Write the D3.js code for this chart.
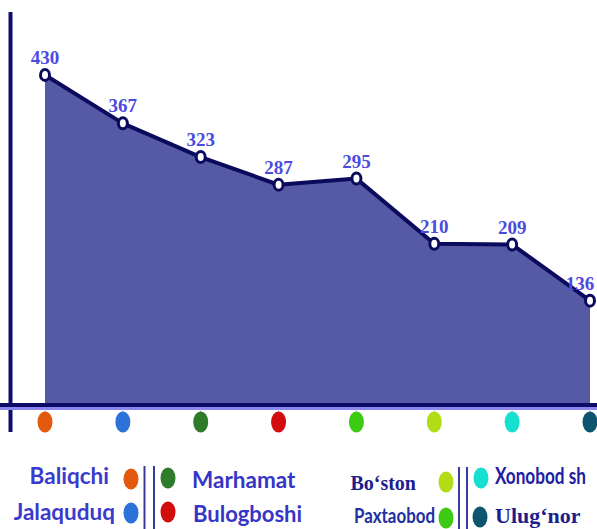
<!DOCTYPE html>
<html>
<head>
<meta charset="utf-8">
<script src="https://cdn.jsdelivr.net/npm/d3@7"></script>
<style>
  html, body { margin: 0; padding: 0; background: #ffffff; }
  svg { display: block; }
</style>
</head>
<body>
<div id="chart"></div>
<script>
// ---- data ----
const categories = ["Baliqchi", "Jalaquduq", "Marhamat", "Bulogboshi", "Paxtaobod", "Bo‘ston", "Xonobod sh", "Ulug‘nor"];
const values = [430, 367, 323, 287, 295, 210, 209, 136];
const dotColors = ["#e35a0f", "#2d72d8", "#2e7b2a", "#d20d0d", "#3ccb12", "#b2dd16", "#16e0cf", "#0e566f"];
// legend groups (indexes into categories)
const legendLeft = [0, 1];
const legendMid = [2, 3];
const legendRight = [5, 4];
const legendFar = [6, 7];

const W = 597, H = 529;
const svg = d3.select("#chart").append("svg").attr("width", W).attr("height", H);

const x = d3.scalePoint().domain(categories).range([45, 590]);
const y = d3.scaleLinear().domain([0, d3.max(values)]).range([405, 75]);

const pts = categories.map((c, i) => ({ c, v: values[i] }));

// area
svg.append("path")
  .datum(pts)
  .attr("fill", "#565aa4")
  .attr("d", d3.area().x(d => x(d.c)).y0(y(0)).y1(d => y(d.v)));

// y axis line
svg.append("line").attr("x1", 10.5).attr("x2", 10.5).attr("y1", 12).attr("y2", 432)
  .attr("stroke", "#0e0e6c").attr("stroke-width", 4);

// x axis line (light under-line then dark)
svg.append("line").attr("x1", 0).attr("x2", W).attr("y1", 408.5).attr("y2", 408.5)
  .attr("stroke", "#8a86ee").attr("stroke-width", 3);
svg.append("line").attr("x1", 0).attr("x2", W).attr("y1", 405).attr("y2", 405)
  .attr("stroke", "#0c0c66").attr("stroke-width", 4);

// small ticks to dots
svg.append("g").selectAll("line").data(pts).join("line")
  .attr("x1", d => x(d.c)).attr("x2", d => x(d.c))
  .attr("y1", 409).attr("y2", 414)
  .attr("stroke", "#b8b4f0").attr("stroke-width", 1);

// category dots below axis
svg.append("g").selectAll("ellipse").data(pts).join("ellipse")
  .attr("cx", d => x(d.c)).attr("cy", 422)
  .attr("rx", 7.5).attr("ry", 10.5)
  .attr("fill", (d, i) => dotColors[i]);

// line
svg.append("path")
  .datum(pts)
  .attr("fill", "none")
  .attr("stroke", "#0b0b5e")
  .attr("stroke-width", 4)
  .attr("stroke-linejoin", "round")
  .attr("d", d3.line().x(d => x(d.c)).y(d => y(d.v)));

// markers
svg.append("g").selectAll("ellipse").data(pts).join("ellipse")
  .attr("cx", d => x(d.c)).attr("cy", d => y(d.v))
  .attr("rx", 4.5).attr("ry", 5.5)
  .attr("fill", "#ffffff").attr("stroke", "#0b0b5e").attr("stroke-width", 3);

// value labels (kept inside the picture)
svg.append("g").selectAll("text").data(pts).join("text")
  .attr("x", d => Math.min(x(d.c), W - 17))
  .attr("y", d => y(d.v) - 11)
  .attr("text-anchor", "middle")
  .attr("font-family", "'Liberation Serif', 'Times New Roman', serif")
  .attr("font-weight", "bold")
  .attr("font-size", 19)
  .attr("fill", "#4b4be0")
  .text(d => d.v);

// ---- legend ----
const sansBold = "Lato, 'Open Sans', sans-serif";
const serif = "'Liberation Serif', 'Times New Roman', serif";
const lg = svg.append("g");

function dot(cx, cy, i) {
  lg.append("ellipse").attr("cx", cx).attr("cy", cy).attr("rx", 7.5).attr("ry", 10.5).attr("fill", dotColors[i]);
}
function label(tx, ty, i, anchor, family, size, color, width) {
  const t = lg.append("text").attr("text-anchor", anchor)
    .attr("dominant-baseline", "middle")
    .attr("font-family", family).attr("font-weight", "bold").attr("font-size", size)
    .attr("fill", color).text(categories[i]);
  let sx = 1;
  if (width) sx = width / t.node().getComputedTextLength();
  t.attr("transform", `translate(${tx},${ty}) scale(${sx},1)`);
}
// group 1
label(109, 478, legendLeft[0], "end", sansBold, 22.5, "#3a3acc");
dot(131, 479, legendLeft[0]);
label(115, 514, legendLeft[1], "end", sansBold, 22.5, "#3a3acc");
dot(131, 513, legendLeft[1]);
// separators 1
[144.5, 154].forEach(sx => lg.append("line").attr("x1", sx).attr("x2", sx).attr("y1", 466).attr("y2", H)
  .attr("stroke", "#3a3a9c").attr("stroke-width", 2));
// group 2
dot(168, 478, legendMid[0]);
label(192, 482, legendMid[0], "start", sansBold, 22.5, "#3535c6");
dot(168, 512, legendMid[1]);
label(193, 516, legendMid[1], "start", sansBold, 22, "#3535c6");
// group 3
label(416, 485, legendRight[0], "end", serif, 20, "#1d1d8c");
dot(446, 482, legendRight[0]);
label(435, 517, legendRight[1], "end", sansBold, 21.5, "#2030a0", 81);
dot(446, 518, legendRight[1]);
// separators 2
[459, 467].forEach(sx => lg.append("line").attr("x1", sx).attr("x2", sx).attr("y1", 467).attr("y2", H)
  .attr("stroke", "#3a3a9c").attr("stroke-width", 2));
// group 4
dot(481, 478, legendFar[0]);
label(495, 478, legendFar[0], "start", sansBold, 22, "#2020a0", 91);
dot(480, 517, legendFar[1]);
label(495, 518, legendFar[1], "start", serif, 22, "#1d1d8c");
</script>
</body>
</html>
